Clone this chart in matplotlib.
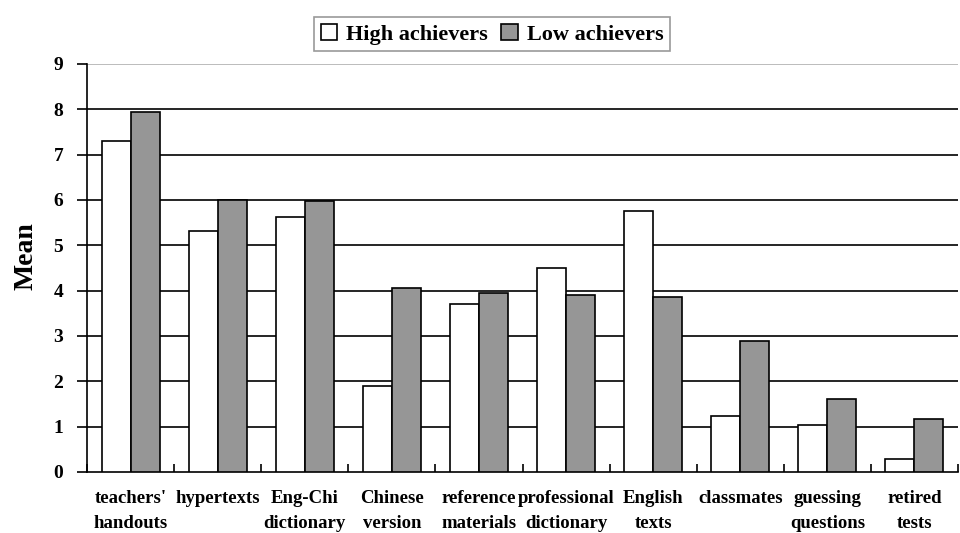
import matplotlib
matplotlib.use("Agg")
import matplotlib.pyplot as plt
import numpy as np

categories = ["teachers'\nhandouts", "hypertexts", "Eng-Chi\ndictionary", "Chinese\nversion",
              "reference\nmaterials", "professional\ndictionary", "English\ntexts", "classmates",
              "guessing\nquestions", "retired\ntests"]
high_achievers = [7.31, 5.31, 5.63, 1.89, 3.71, 4.49, 5.76, 1.24, 1.04, 0.29]
low_achievers = [7.95, 6.00, 5.97, 4.05, 3.94, 3.91, 3.87, 2.88, 1.62, 1.16]
y_ticks = [0, 1, 2, 3, 4, 5, 6, 7, 8, 9]

plt.rcParams['font.family'] = ['Liberation Serif', 'DejaVu Serif']
plt.rcParams['font.weight'] = 'bold'

fig = plt.figure(figsize=(9.6, 5.33), dpi=100)
ax = fig.add_axes([87/960, 1 - 472/533, 871/960, 408/533])

x = np.arange(len(categories))
w = 1/3
ax.bar(x - w/2, high_achievers, width=w, color='white', edgecolor='black', linewidth=1.2,
       label='High achievers', zorder=3)
ax.bar(x + w/2, low_achievers, width=w, color='#969696', edgecolor='black', linewidth=1.2,
       label='Low achievers', zorder=3)

ax.set_xlim(-0.5, len(categories) - 0.5)
ax.set_ylim(0, 9)
ax.set_yticks(y_ticks)
for t in y_ticks[1:-1]:
    ax.axhline(t, color='black', linewidth=1.2, zorder=1)
ax.axhline(9, color='#b0b0b0', linewidth=1.2, zorder=1)

for s in ['top', 'right']:
    ax.spines[s].set_visible(False)
ax.spines['left'].set_linewidth(1.2)
ax.spines['bottom'].set_linewidth(1.2)

ax.tick_params(axis='y', direction='out', length=7, width=1.2, labelsize=14, pad=10)
ax.set_xticks(np.arange(len(categories) + 1) - 0.5, minor=False)
ax.set_xticklabels([])
ax.tick_params(axis='x', direction='in', length=6, width=1.2)
ax.set_xticks(x, minor=True)
ax.set_xticklabels(categories, minor=True, fontsize=13.5, linespacing=1.6)
ax.tick_params(axis='x', which='minor', length=0, pad=13)

ax.set_ylabel('Mean', fontsize=20, fontweight='bold')
ax.yaxis.set_label_coords(-0.056, 0.53)

leg = ax.legend(loc='upper center', bbox_to_anchor=(405/871, 1 + 47/408), ncol=2,
                fontsize=16, frameon=True, fancybox=False, edgecolor='#808080',
                handlelength=0.75, handleheight=0.75, handletextpad=0.4, columnspacing=0.6,
                borderpad=0.3, borderaxespad=0)
leg.get_frame().set_linewidth(1.2)

fig.savefig('out.png', dpi=100)
